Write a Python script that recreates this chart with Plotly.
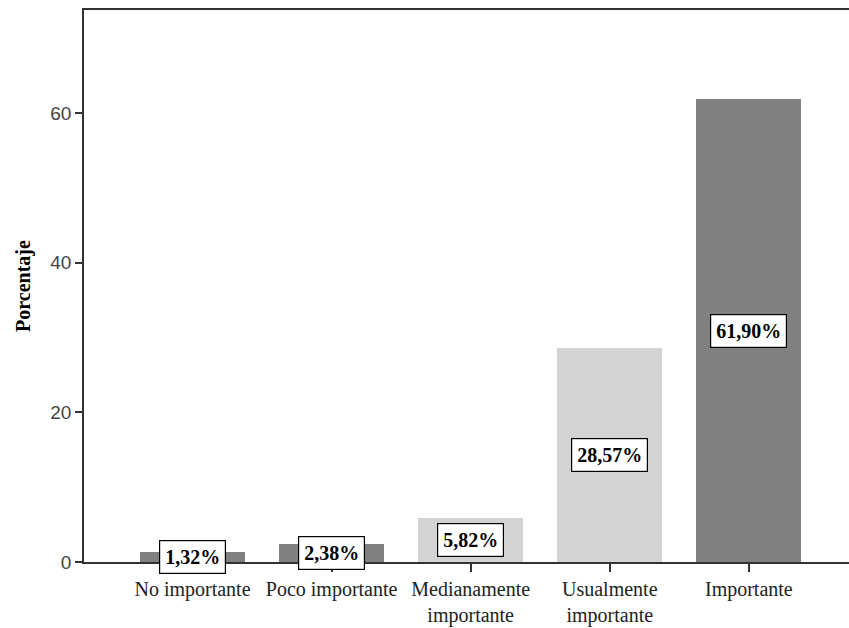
import plotly.graph_objects as go

categories = ["No importante", "Poco importante", "Medianamente<br>importante", "Usualmente<br>importante", "Importante"]
values = [1.32, 2.38, 5.82, 28.57, 61.90]
labels = ["1,32%", "2,38%", "5,82%", "28,57%", "61,90%"]
colors = ["#808080", "#808080", "#d3d3d3", "#d3d3d3", "#808080"]
y_ticks = [0, 20, 40, 60]

x_idx = list(range(len(categories)))

fig = go.Figure()
fig.add_trace(go.Bar(
    x=x_idx, y=values, width=0.755,
    marker=dict(color=colors, line=dict(width=0)),
    hoverinfo="skip", showlegend=False,
))

for i, (v, t) in enumerate(zip(values, labels)):
    fig.add_annotation(
        x=i, y=v / 2, text="<b>" + t + "</b>", showarrow=False,
        font=dict(family="Liberation Serif, Times New Roman, serif", size=20, color="black"),
        bgcolor="white", bordercolor="black", borderwidth=1.2, borderpad=5,
        xref="x", yref="y",
    )

fig.update_layout(
    width=849, height=628,
    margin=dict(l=84, r=0, t=10, b=66),
    plot_bgcolor="white", paper_bgcolor="white",
    bargap=0,
)
fig.update_xaxes(
    range=[-0.78, 4.72],
    tickmode="array", tickvals=x_idx, ticktext=categories,
    ticks="outside", ticklen=8, tickcolor="#333", tickwidth=1.5,
    showline=True, linecolor="#333", linewidth=1.5, mirror=True,
    showgrid=False, zeroline=False,
    tickfont=dict(family="Liberation Serif, Times New Roman, serif", size=20, color="#222"),
)
fig.update_yaxes(
    range=[0, 73.8],
    tickmode="array", tickvals=y_ticks,
    ticks="outside", ticklen=7, tickcolor="#333", tickwidth=1.5,
    showline=True, linecolor="#333", linewidth=1.5,
    showgrid=False, zeroline=False,
    tickfont=dict(family="Liberation Sans, Arial, sans-serif", size=19, color="#444"),
    title=dict(text="<b>Porcentaje</b>", standoff=14,
               font=dict(family="Liberation Serif, Times New Roman, serif", size=20, color="black")),
)

fig.write_html("out.html")
